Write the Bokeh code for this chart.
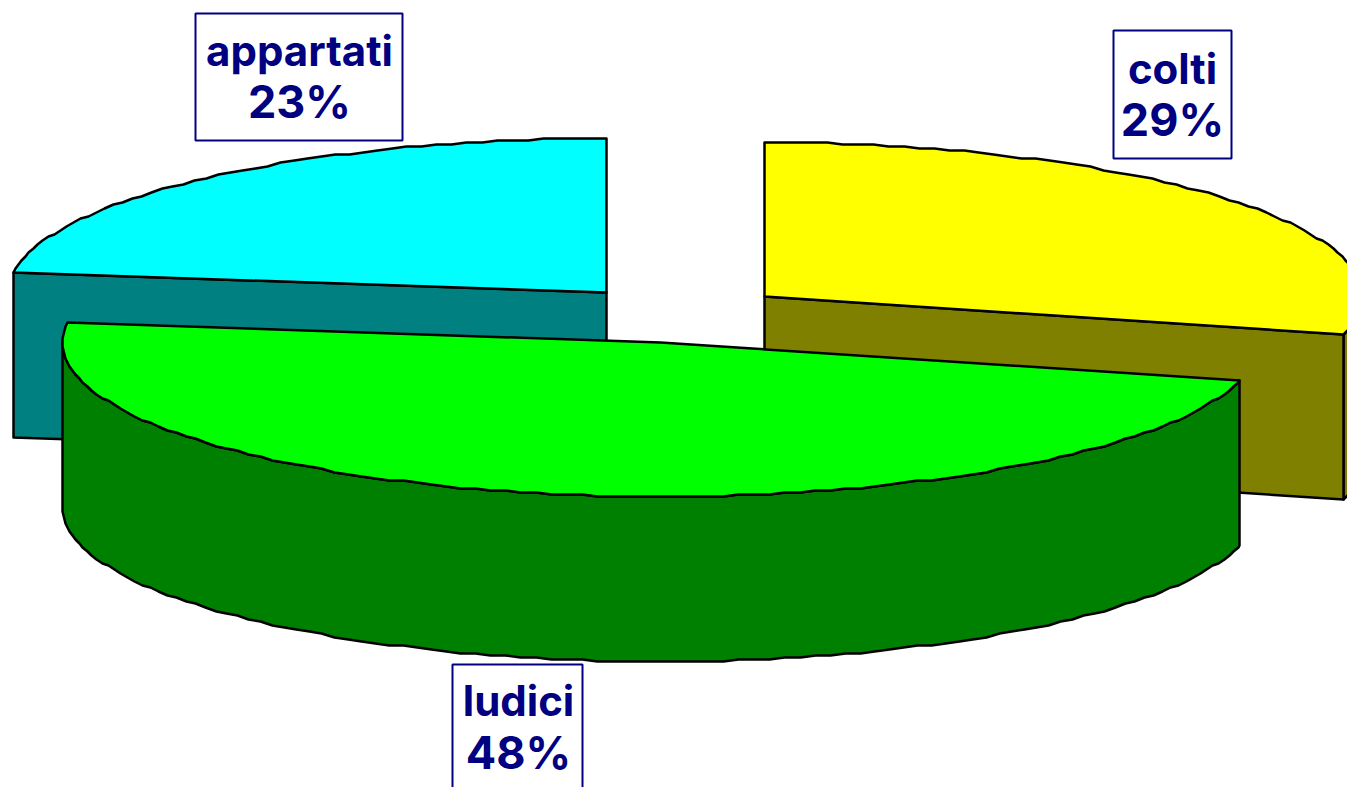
import numpy as np
from bokeh.plotting import figure
from bokeh.models import Range1d
from bokeh.core.properties import value
from bokeh.embed import file_html
from bokeh.resources import INLINE

# Data, clockwise from twelve o'clock
categories = ["colti", "ludici", "appartati"]
shares = [29, 48, 23]
percent_labels = ["29%", "48%", "23%"]
top_colours = ["#FFFF00", "#00FF00", "#00FFFF"]
side_colours = ["#808000", "#008000", "#008080"]
NAVY = "#000080"

# Layout in picture pixels
WIDTH, HEIGHT = 1347, 787
centres = {"colti": (764, 296), "ludici": (660, 342), "appartati": (606, 292)}
RX, RY, DEPTH = 598, 154, 165
boxes = {"colti": (1113, 30, 1231, 158), "ludici": (452, 664, 582, 800), "appartati": (195, 13, 402, 140)}
text_pos = {"colti": (1172, 68, 119), "ludici": (518, 700, 752), "appartati": (299, 50, 101)}

p = figure(width=WIDTH, height=HEIGHT, output_backend="svg", toolbar_location=None,
           x_range=Range1d(0, WIDTH), y_range=Range1d(HEIGHT, 0),
           margin=(0, 0, 0, 0), min_border=0, outline_line_color=None,
           border_fill_color="white", background_fill_color="white")
p.xaxis.visible = False
p.yaxis.visible = False
p.grid.visible = False


def arc(name, a0, a1):
    cx, cy = centres[name]
    inner = np.arange(np.ceil(a0 / 1.5) * 1.5, a1, 1.5)
    t = np.radians(np.r_[a0, inner, a1])
    return np.round(cx + RX * np.sin(t)), np.round((cy - RY * np.cos(t)) / 2) * 2


def face(xs, ys, colour):
    p.patch(list(xs), list(ys), fill_color=colour, line_color="black", line_width=2.5, line_join="round")


totals = np.cumsum([0] + shares) / sum(shares) * 360
spans = {c: (totals[i], totals[i + 1], top_colours[i], side_colours[i]) for i, c in enumerate(categories)}

# back-to-front order
for name in ["appartati", "colti", "ludici"]:
    a0, a1, top, side = spans[name]
    cx, cy = centres[name]
    ax, ay = arc(name, a0, a1)
    # outer rim: only the front half (90..270 degrees) faces the viewer
    r0, r1 = max(a0, 90), min(a1, 270)
    if r1 > r0:
        rx_, ry_ = arc(name, r0, r1)
        face(np.r_[rx_, rx_[::-1]], np.r_[ry_, ry_[::-1] + DEPTH], side)
    # radial wall that faces the viewer
    if name == "colti":
        ex, ey = ax[-1], ay[-1]
    elif name == "appartati":
        ex, ey = ax[0], ay[0]
    else:
        ex = None
    if ex is not None:
        face([cx, ex, ex, cx], [cy, ey, ey + DEPTH, cy + DEPTH], side)
    face(np.r_[cx, ax], np.r_[cy, ay], top)

for i, name in enumerate(categories):
    l, t, r, b = boxes[name]
    p.quad(left=[l], right=[r], top=[t], bottom=[b], fill_color="white", line_color=NAVY, line_width=2)
    tx, y1, y2 = text_pos[name]
    p.text(x=[tx], y=[y1], text=[name], text_color=NAVY,
           text_font=value("Inter"), text_font_style="bold", text_font_size="42px",
           text_align="center", text_baseline="alphabetic")
    p.text(x=[tx], y=[y2], text=[percent_labels[i]], text_color=NAVY,
           text_font=value("Inter"), text_font_style="bold", text_font_size="45px",
           text_align="center", text_baseline="alphabetic")

open("out.html", "w").write(file_html(p, INLINE))
